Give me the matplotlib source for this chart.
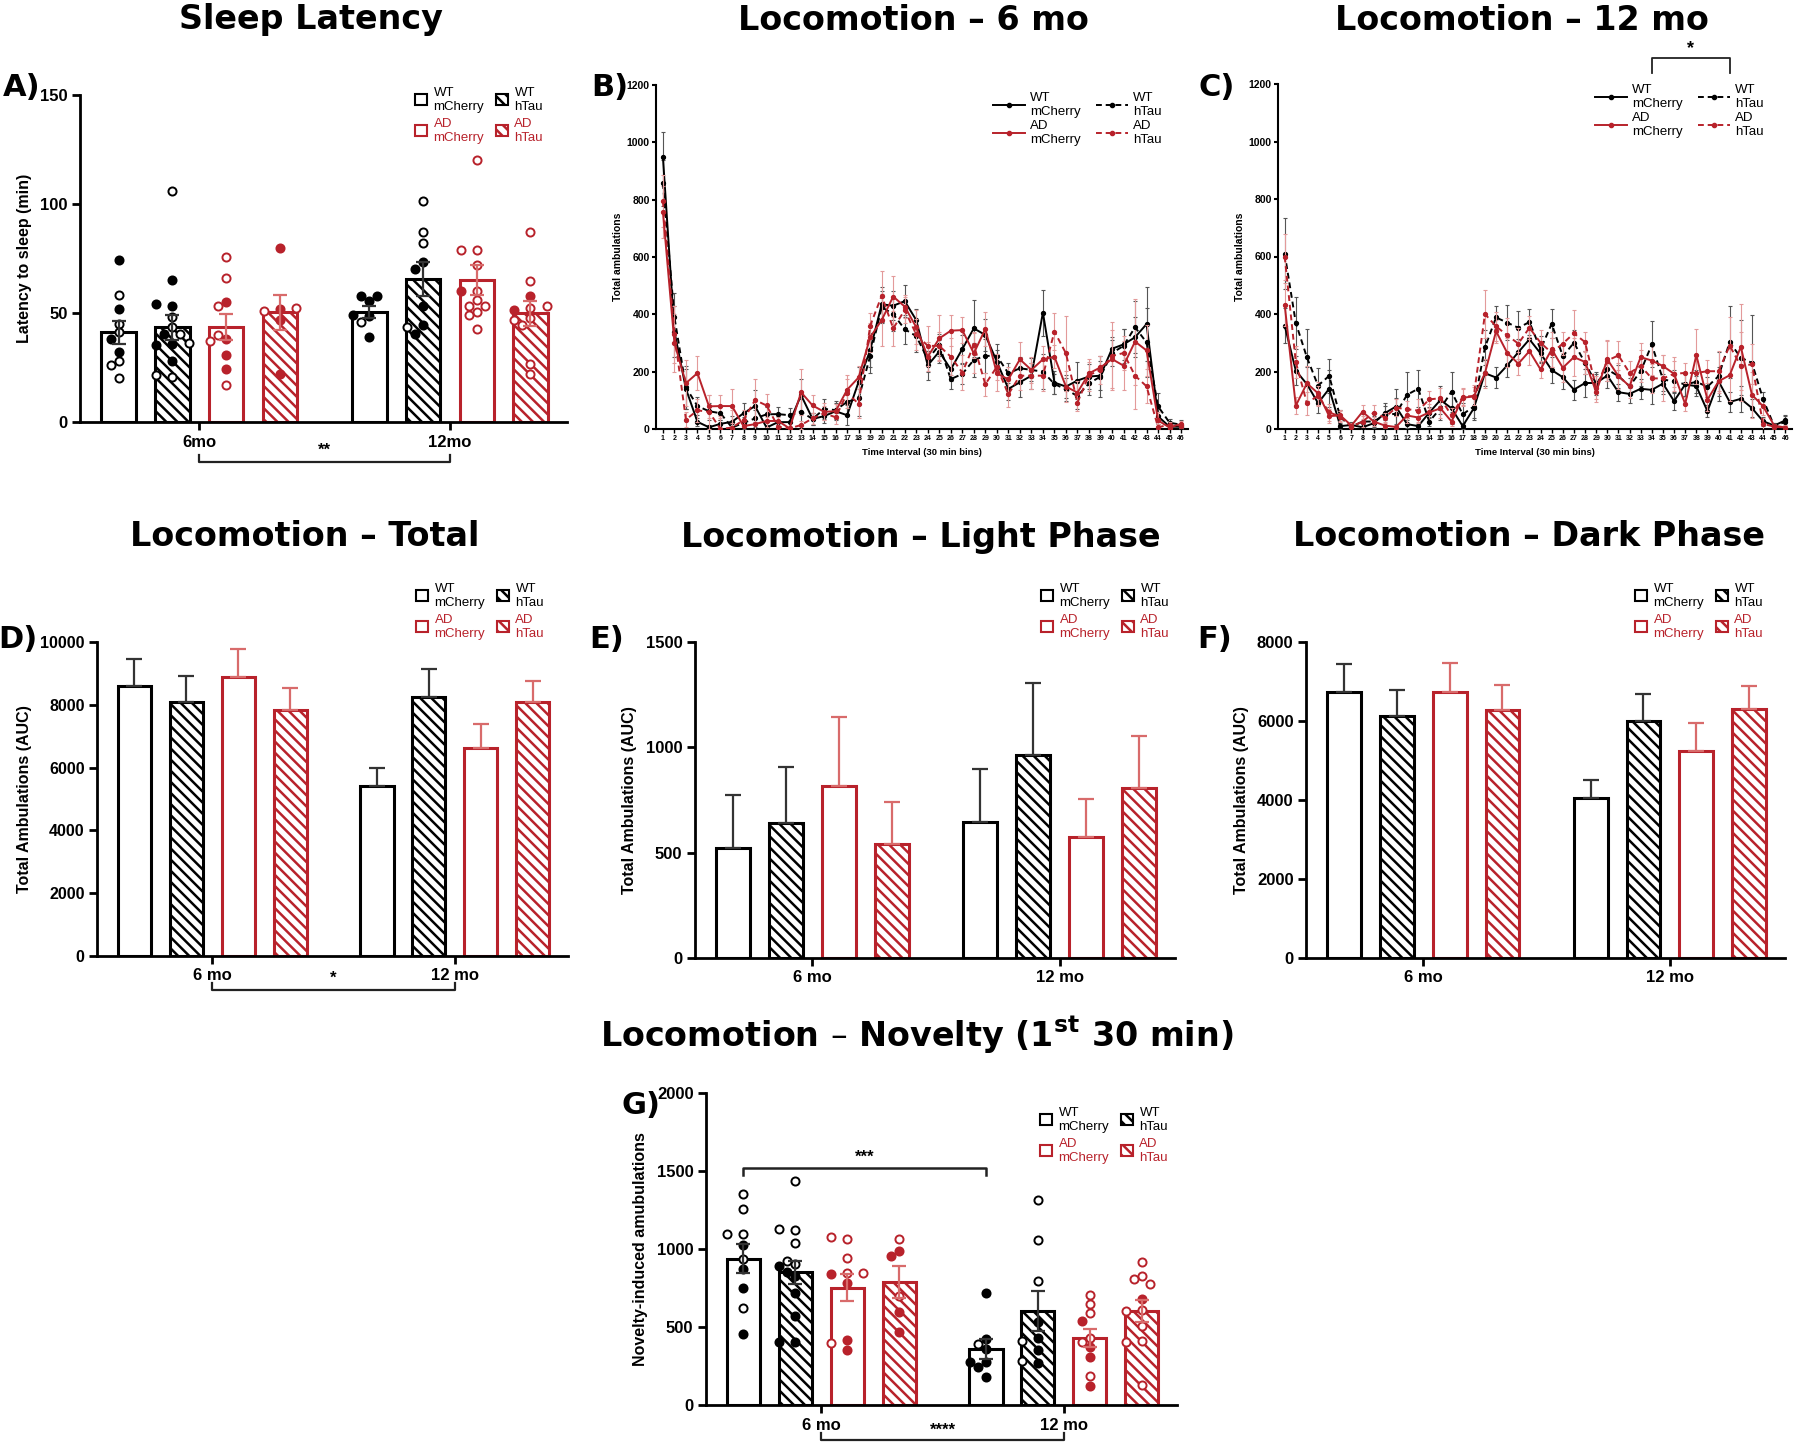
import numpy as np
import matplotlib
matplotlib.use('Agg')
import matplotlib.pyplot as plt
import matplotlib.transforms as mtrans
from matplotlib.patches import Patch
from matplotlib.lines import Line2D

plt.rcParams['font.family'] = ['Liberation Sans', 'DejaVu Sans']
plt.rcParams['hatch.linewidth'] = 1.8

# ---------------- data ----------------
groups = ['WT mCherry', 'WT hTau', 'AD mCherry', 'AD hTau']
ages_a = ['6mo', '12mo']
ages = ['6 mo', '12 mo']

# bar order: 6 mo (WT mCh, WT hTau, AD mCh, AD hTau), then 12 mo in the same order
sleep_mean = [41.1, 43.5, 43.5, 50.3, 50.3, 65.8, 65.2, 49.9]
sleep_sem = [5.3, 5.7, 6.0, 8.0, 2.7, 7.8, 7.0, 5.7]
sleep_pts = [
    [74.1, 58.1, 52.0, 45.1, 41.2, 38.1, 32.2, 28.2, 26.1, 20.1],
    [106, 65, 53.3, 54, 48, 43.4, 40.5, 40.3, 35.7, 35.4, 36.2, 27.8, 20.6, 21.4],
    [75.9, 66, 55, 53, 38.1, 37, 40.1, 30.9, 24.1, 16.9],
    [80, 52, 51.1, 52.3, 47, 22.1],
    [55.7, 57.6, 58, 48.7, 49.2, 45.8, 39],
    [101.6, 87.1, 81.9, 73.5, 70.1, 53, 44.3, 43.8, 40.5],
    [120, 79, 79, 72.1, 60.2, 60.2, 56.1, 53, 53, 50.4, 48.9, 42.6],
    [87.1, 64.9, 57.6, 52.2, 51.5, 53, 47.7, 46.9, 44.3, 26.7, 22.1],
]
sleep_filled = [
    [1, 0, 1, 0, 0, 1, 1, 0, 0, 0],
    [0, 1, 1, 1, 0, 0, 1, 0, 1, 1, 0, 1, 0, 0],
    [0, 0, 1, 0, 1, 0, 0, 1, 1, 0],
    [1, 1, 0, 0, 1, 1],
    [1, 1, 1, 1, 1, 0, 1],
    [0, 0, 0, 1, 1, 1, 1, 0, 1],
    [0, 0, 0, 0, 0, 1, 0, 0, 0, 0, 0, 0],
    [0, 0, 1, 0, 1, 0, 0, 0, 0, 0, 0],
]

tot_mean = [8599, 8089, 8875, 7824, 5425, 8259, 6624, 8079]
tot_sem = [870, 830, 890, 710, 560, 880, 750, 690]
light_mean = [522, 642, 818, 540, 647, 962, 574, 809]
light_sem = [253, 263, 328, 199, 249, 342, 179, 245]
dark_mean = [6726, 6118, 6743, 6278, 4059, 6008, 5241, 6295]
dark_sem = [709, 667, 734, 633, 439, 667, 700, 591]

nov_mean = [939, 850, 753, 790, 356, 604, 427, 602]
nov_sem = [96, 76, 85, 102, 64, 128, 58, 70]
nov_pts = [
    [1355, 1257, 1095, 1095, 1027, 933, 869, 747, 625, 456],
    [1439, 1121, 1129, 1037, 901, 926, 890, 854, 826, 715, 570, 401, 401],
    [1067, 1074, 943, 847, 839, 843, 779, 414, 352, 397],
    [1061, 984, 958, 700, 593, 470],
    [719, 423, 356, 391, 277, 241, 277, 181],
    [1317, 1057, 798, 529, 427, 412, 352, 267, 280],
    [704, 645, 587, 540, 431, 406, 374, 309, 188, 124],
    [918, 826, 807, 773, 679, 608, 604, 506, 412, 401, 128],
]
nov_filled = [
    [0, 0, 0, 0, 1, 0, 1, 1, 0, 1],
    [0, 0, 0, 0, 0, 0, 1, 1, 1, 1, 1, 1, 1],
    [0, 0, 0, 0, 1, 0, 1, 1, 1, 0],
    [0, 1, 1, 0, 1, 1],
    [1, 1, 1, 0, 1, 1, 1, 1],
    [0, 0, 0, 1, 1, 0, 1, 1, 0],
    [0, 0, 0, 1, 0, 0, 1, 1, 0, 1],
    [0, 0, 0, 0, 1, 0, 0, 0, 0, 0, 0],
]

bins = list(range(1, 47))
b_wt_mch = [950, 340, 140, 25, 6, 18, 25, 55, 80, 5, 24, 24, 118, 35, 45, 62, 48, 165, 275, 435,
            430, 446, 380, 222, 270, 208, 279, 351, 328, 235, 140, 163, 186, 406, 162, 148, 169, 183,
            186, 280, 295, 320, 366, 44, 8, 8]
b_wt_htau = [858, 390, 145, 80, 62, 55, 5, 21, 37, 51, 52, 48, 60, 35, 70, 66, 95, 107, 255, 425,
             401, 348, 324, 243, 293, 174, 192, 241, 255, 255, 194, 212, 206, 200, 157, 138, 115, 159,
             183, 265, 290, 355, 302, 79, 22, 15]
b_ad_mch = [758, 300, 160, 195, 79, 80, 80, 10, 17, 28, 28, 2, 128, 82, 60, 62, 137, 180, 320, 380,
            462, 427, 355, 252, 316, 343, 345, 264, 349, 194, 173, 243, 206, 243, 252, 148, 127, 194,
            215, 244, 221, 305, 274, 30, 5, 18]
b_ad_htau = [795, 330, 33, 65, 60, 0, 5, 31, 101, 82, 8, 2, 14, 37, 55, 41, 125, 88, 360, 465,
             351, 415, 330, 290, 290, 252, 197, 293, 156, 217, 121, 186, 186, 186, 340, 264, 92, 188,
             206, 255, 265, 186, 149, 6, 15, 12]
b_wt_mch_sem = [87, 90, 70, 15, 8, 15, 20, 35, 55, 10, 20, 20, 55, 20, 25, 30, 35, 50, 60, 60,
                50, 55, 40, 50, 40, 40, 50, 100, 55, 40, 40, 50, 45, 80, 40, 40, 65, 45,
                50, 40, 55, 70, 130, 25, 8, 10]
b_wt_htau_sem = [80, 85, 75, 30, 30, 25, 20, 20, 30, 25, 25, 25, 45, 20, 35, 30, 45, 60, 60, 55,
                 60, 50, 55, 45, 40, 35, 35, 60, 60, 40, 35, 40, 40, 60, 35, 40, 45, 40,
                 70, 45, 60, 90, 120, 45, 12, 15]
b_ad_mch_sem = [90, 100, 80, 60, 40, 40, 60, 15, 20, 20, 15, 5, 80, 35, 30, 25, 50, 40, 50, 90,
                70, 40, 60, 50, 80, 55, 45, 70, 60, 60, 45, 60, 45, 45, 40, 55, 40, 40,
                40, 100, 85, 150, 90, 30, 8, 10]
b_ad_htau_sem = [90, 100, 25, 40, 60, 45, 60, 35, 75, 40, 20, 5, 15, 20, 25, 25, 50, 50, 45, 85,
                 60, 45, 55, 70, 50, 65, 60, 45, 40, 45, 45, 50, 45, 55, 65, 130, 30, 55,
                 50, 120, 60, 115, 60, 10, 8, 10]

c_wt_mch = [360, 203, 156, 90, 140, 10, 14, 6, 20, 55, 78, 17, 10, 57, 101, 72, 10, 72, 194, 179,
            221, 267, 312, 263, 205, 180, 137, 160, 160, 186, 128, 122, 140, 136, 158, 97, 155, 149,
            62, 166, 94, 105, 73, 27, 12, 30]
c_wt_htau = [610, 369, 249, 151, 185, 41, 8, 26, 26, 49, 53, 119, 140, 26, 72, 130, 51, 78, 284, 388,
             370, 352, 372, 277, 366, 253, 300, 230, 158, 207, 184, 149, 201, 294, 172, 166, 155, 164,
             147, 184, 302, 248, 230, 104, 10, 25]
c_ad_mch = [432, 81, 159, 124, 45, 47, 12, 60, 26, 12, 7, 47, 40, 58, 72, 26, 109, 113, 194, 340,
            265, 227, 271, 207, 277, 213, 250, 233, 129, 242, 184, 149, 250, 238, 219, 192, 87, 257,
            102, 166, 187, 286, 119, 79, 12, 5]
c_ad_htau = [600, 233, 90, 116, 58, 43, 8, 26, 57, 40, 74, 69, 64, 103, 107, 47, 112, 115, 400, 357,
             326, 297, 352, 300, 265, 297, 333, 302, 143, 238, 256, 195, 219, 176, 176, 192, 195, 195,
             201, 201, 290, 219, 225, 18, 8, 5]
c_wt_mch_sem = [60, 50, 60, 35, 65, 10, 8, 10, 15, 25, 60, 15, 8, 20, 50, 55, 10, 40, 45, 35,
                40, 45, 40, 35, 45, 40, 35, 50, 30, 45, 30, 30, 35, 50, 35, 30, 40, 35,
                20, 50, 35, 45, 30, 15, 8, 20]
c_wt_htau_sem = [123, 90, 100, 60, 60, 25, 15, 25, 20, 40, 55, 80, 65, 15, 40, 70, 40, 40, 60, 40,
                 60, 60, 45, 45, 50, 40, 45, 40, 40, 40, 40, 30, 50, 80, 40, 40, 40, 40,
                 35, 85, 125, 130, 165, 25, 10, 20]
c_ad_mch_sem = [75, 30, 60, 40, 25, 20, 10, 25, 15, 10, 8, 25, 20, 30, 35, 15, 30, 40, 50, 40,
                50, 40, 50, 30, 60, 50, 65, 40, 35, 65, 45, 40, 50, 50, 40, 45, 25, 90,
                40, 40, 90, 150, 80, 30, 5, 5]
c_ad_htau_sem = [80, 55, 40, 35, 30, 20, 10, 20, 25, 15, 30, 30, 40, 30, 35, 25, 30, 30, 85, 50,
                 60, 55, 40, 45, 50, 40, 80, 35, 40, 70, 50, 40, 55, 50, 80, 60, 35, 40,
                 40, 70, 100, 120, 70, 20, 10, 10]

# ---------------- style ----------------
W, H = 1800, 1446
RED = '#b8222b'
RED_ERR = '#d86b6b'
BLK = 'black'
BLK_ERR = '#333333'
bar_x = [0, 1, 2, 3, 4.67, 5.67, 6.67, 7.67]
cat_x = [1.5, 6.17]
bar_col = [BLK, BLK, RED, RED] * 2
bar_hatch = [None, '\\\\\\', None, '\\\\\\'] * 2

fig = plt.figure(figsize=(W / 100, H / 100), dpi=100)


def add_ax(l, t, r, b):
    return fig.add_axes([l / W, 1 - b / H, (r - l) / W, (b - t) / H])


def fxy(x, y):
    return (x / W, 1 - y / H)


def bar_legend(ax, x, y):
    hs = [Patch(facecolor='white', edgecolor=c, hatch=h, linewidth=1.5)
          for c, h in zip([BLK, RED, BLK, RED], [None, None, '\\\\\\', '\\\\\\'])]
    labs = ['WT\nmCherry', 'AD\nmCherry', 'WT\nhTau', 'AD\nhTau']
    leg = ax.legend(hs, labs, ncol=2, loc='upper left', bbox_to_anchor=fxy(x, y),
                    bbox_transform=fig.transFigure, frameon=False, fontsize=9.5,
                    handlelength=0.9, handleheight=0.9, handletextpad=0.5,
                    columnspacing=0.9, labelspacing=0.4, borderpad=0, borderaxespad=0)
    for t, c in zip(leg.get_texts(), [BLK, RED, BLK, RED]):
        t.set_color(c)


def bar_axes(ax, ymax, yticks, ylabel, cats):
    ax.set_xlim(-0.72, 8.35)
    ax.set_ylim(0, ymax)
    ax.set_yticks(yticks)
    ax.set_xticks(cat_x)
    ax.set_xticklabels(cats, fontsize=13, fontweight='bold')
    for s in ['top', 'right']:
        ax.spines[s].set_visible(False)
    for s in ['left', 'bottom']:
        ax.spines[s].set_linewidth(2)
    ax.tick_params(width=2, length=6, labelsize=12, pad=3)
    for lab in ax.get_yticklabels():
        lab.set_fontweight('bold')
    ax.set_ylabel(ylabel, fontsize=11.5, fontweight='bold', labelpad=6)


def draw_bars(ax, means, sems, both):
    for i in range(8):
        ax.bar(bar_x[i], means[i], width=0.64, facecolor='white', edgecolor=bar_col[i],
               hatch=bar_hatch[i], linewidth=2.2, zorder=2)
        ec = BLK_ERR if bar_col[i] == BLK else RED_ERR
        lo = sems[i] if both else 0
        ax.errorbar(bar_x[i], means[i], yerr=[[lo], [sems[i]]], fmt='none', ecolor=ec,
                    elinewidth=1.6, capsize=5 if both else 6, capthick=1.6, zorder=4)


def swarm(vals, px_y, px_x, diam=8.5):
    placed = []
    offs = []
    for v in vals:
        y = v * px_y
        for c in [0, -1, 1, -2, 2, -3, 3, -4, 4]:
            x = c * diam * 0.95
            if all((x - px) ** 2 + (y - py) ** 2 >= diam ** 2 for px, py in placed):
                break
        placed.append((x, y))
        offs.append(x / px_x)
    return offs


def draw_points(ax, pts, filled):
    bb = ax.get_window_extent()
    x0, x1 = ax.get_xlim()
    y0, y1 = ax.get_ylim()
    px_x = bb.width / (x1 - x0)
    px_y = bb.height / (y1 - y0)
    for i in range(8):
        c = bar_col[i]
        offs = swarm(pts[i], px_y, px_x)
        for v, f, o in zip(pts[i], filled[i], offs):
            ax.scatter(bar_x[i] + o, v, s=34, facecolor=c if f else 'white', edgecolor=c,
                       linewidths=1.4, zorder=3)


def below_bracket(ax, x0, x1, y_line, y_top, y_text, label):
    tr = mtrans.blended_transform_factory(ax.transData, ax.transAxes)
    ax.plot([x0, x0, x1, x1], [y_top, y_line, y_line, y_top], color='#222222', lw=1.6,
            transform=tr, clip_on=False)
    ax.text((x0 + x1) / 2, y_text, label, transform=tr, ha='center', va='center',
            fontsize=12, fontweight='bold')


def ts_panel(ax, series, sems):
    styles = [(BLK, '-', '#555555'), (BLK, (0, (3, 2)), '#555555'),
              (RED, '-', '#e39a9a'), (RED, (0, (3, 2)), '#e39a9a')]
    for k in [3, 2, 1, 0]:
        c, ls, ec = styles[k]
        ax.errorbar(bins, series[k], yerr=sems[k], color=c, ls=ls, lw=1.4, marker='o', ms=2.8,
                    ecolor=ec, elinewidth=0.8, capsize=1.5, capthick=0.8, zorder=3 + k * 0.1)
    ax.set_xlim(0.4, 46.6)
    ax.set_ylim(0, 1200)
    ax.set_yticks(range(0, 1201, 200))
    ax.set_xticks(bins)
    ax.set_xticklabels([str(b) for b in bins], fontsize=5, fontweight='bold')
    for lab in ax.get_yticklabels():
        lab.set_fontweight('bold')
        lab.set_fontsize(7.5)
    for s in ['top', 'right']:
        ax.spines[s].set_visible(False)
    for s in ['left', 'bottom']:
        ax.spines[s].set_linewidth(1.5)
    ax.tick_params(axis='y', width=1.5, length=3, pad=1.5)
    ax.tick_params(axis='x', width=1, length=3, pad=1.5)
    ax.set_xlabel('Time Interval (30 min bins)', fontsize=6.8, fontweight='bold', labelpad=4)
    ax.set_ylabel('Total ambulations', fontsize=7.5, fontweight='bold', labelpad=3)
    hs = [Line2D([0], [0], color=styles[k][0], ls=styles[k][1], lw=1.4, marker='o', ms=3)
          for k in [0, 2, 1, 3]]
    return hs


def ts_legend(ax, hs, x, y):
    labs = ['WT\nmCherry', 'AD\nmCherry', 'WT\nhTau', 'AD\nhTau']
    ax.legend(hs, labs, ncol=2, loc='upper left', bbox_to_anchor=fxy(x, y),
              bbox_transform=fig.transFigure, frameon=False, fontsize=9.5,
              handlelength=2.4, handletextpad=0.4, columnspacing=1.2,
              labelspacing=0.15, borderpad=0, borderaxespad=0)


# ---------------- A: sleep latency ----------------
axA = add_ax(80, 95, 567, 422)
bar_axes(axA, 150, [0, 50, 100, 150], 'Latency to sleep (min)', ages_a)
draw_bars(axA, sleep_mean, sleep_sem, True)
draw_points(axA, sleep_pts, sleep_filled)
bar_legend(axA, 415, 87)
below_bracket(axA, cat_x[0], cat_x[1], -0.122, -0.101, -0.086, '**')

# ---------------- B / C: time courses ----------------
axB = add_ax(656, 85, 1188, 429)
hsB = ts_panel(axB, [b_wt_mch, b_wt_htau, b_ad_mch, b_ad_htau],
               [b_wt_mch_sem, b_wt_htau_sem, b_ad_mch_sem, b_ad_htau_sem])
ts_legend(axB, hsB, 993, 92)

axC = add_ax(1278, 84, 1792, 429)
hsC = ts_panel(axC, [c_wt_mch, c_wt_htau, c_ad_mch, c_ad_htau],
               [c_wt_mch_sem, c_wt_htau_sem, c_ad_mch_sem, c_ad_htau_sem])
ts_legend(axC, hsC, 1595, 84)
axC.plot([34, 34, 41, 41], [1238, 1290, 1290, 1238], color='#222222', lw=1.3, clip_on=False)
axC.text(37.5, 1322, '*', ha='center', va='center', fontsize=13, fontweight='bold')

# ---------------- D / E / F: AUC ----------------
axD = add_ax(97, 642, 568, 956)
bar_axes(axD, 10000, range(0, 10001, 2000), 'Total Ambulations (AUC)', ages)
for lab in axD.get_yticklabels():
    lab.set_fontsize(11.5)
draw_bars(axD, tot_mean, tot_sem, False)
bar_legend(axD, 416, 583)
below_bracket(axD, cat_x[0], cat_x[1], -0.108, -0.086, -0.07, '*')

axE = add_ax(695, 642, 1175, 958)
bar_axes(axE, 1500, [0, 500, 1000, 1500], 'Total Ambulations (AUC)', ages)
draw_bars(axE, light_mean, light_sem, False)
bar_legend(axE, 1041, 583)

axF = add_ax(1306, 642, 1785, 958)
bar_axes(axF, 8000, range(0, 8001, 2000), 'Total Ambulations (AUC)', ages)
draw_bars(axF, dark_mean, dark_sem, False)
bar_legend(axF, 1635, 583)

# ---------------- G: novelty ----------------
axG = add_ax(706, 1093, 1177, 1405)
bar_axes(axG, 2000, range(0, 2001, 500), 'Novelty-induced amubulations', ages)
draw_bars(axG, nov_mean, nov_sem, True)
draw_points(axG, nov_pts, nov_filled)
bar_legend(axG, 1040, 1107)
axG.plot([bar_x[0], bar_x[0], bar_x[4], bar_x[4]], [1473, 1520, 1520, 1473], color='#222222',
         lw=1.8)
axG.text((bar_x[0] + bar_x[4]) / 2, 1590, '***', ha='center', va='center', fontsize=12,
         fontweight='bold')
below_bracket(axG, cat_x[0], cat_x[1], -0.112, -0.09, -0.08, '****')

# ---------------- titles and panel letters ----------------
tkw = dict(ha='center', va='center', fontsize=24, fontweight='bold', family='DejaVu Sans')
fig.text(*fxy(311, 20), 'Sleep Latency', **tkw)
fig.text(*fxy(913, 20), 'Locomotion – 6 mo', **tkw)
fig.text(*fxy(1522, 20), 'Locomotion – 12 mo', **tkw)
fig.text(*fxy(305, 537), 'Locomotion – Total', **tkw)
fig.text(*fxy(921, 537), 'Locomotion – Light Phase', **tkw)
fig.text(*fxy(1529, 537), 'Locomotion – Dark Phase', **tkw)
fig.text(*fxy(917, 1035), r'Locomotion – Novelty (1$^{\mathbf{st}}$ 30 min)', **tkw)

lkw = dict(ha='center', va='center', fontsize=22, fontweight='bold', family='DejaVu Sans')
for lab, (x, y) in zip(['A)', 'B)', 'C)', 'D)', 'E)', 'F)', 'G)'],
                       [(22, 87), (610, 87), (1217, 87), (18, 639), (607, 639), (1215, 639),
                        (641, 1105)]):
    fig.text(*fxy(x, y), lab, **lkw)

fig.savefig('out.png', dpi=100, facecolor='white')
